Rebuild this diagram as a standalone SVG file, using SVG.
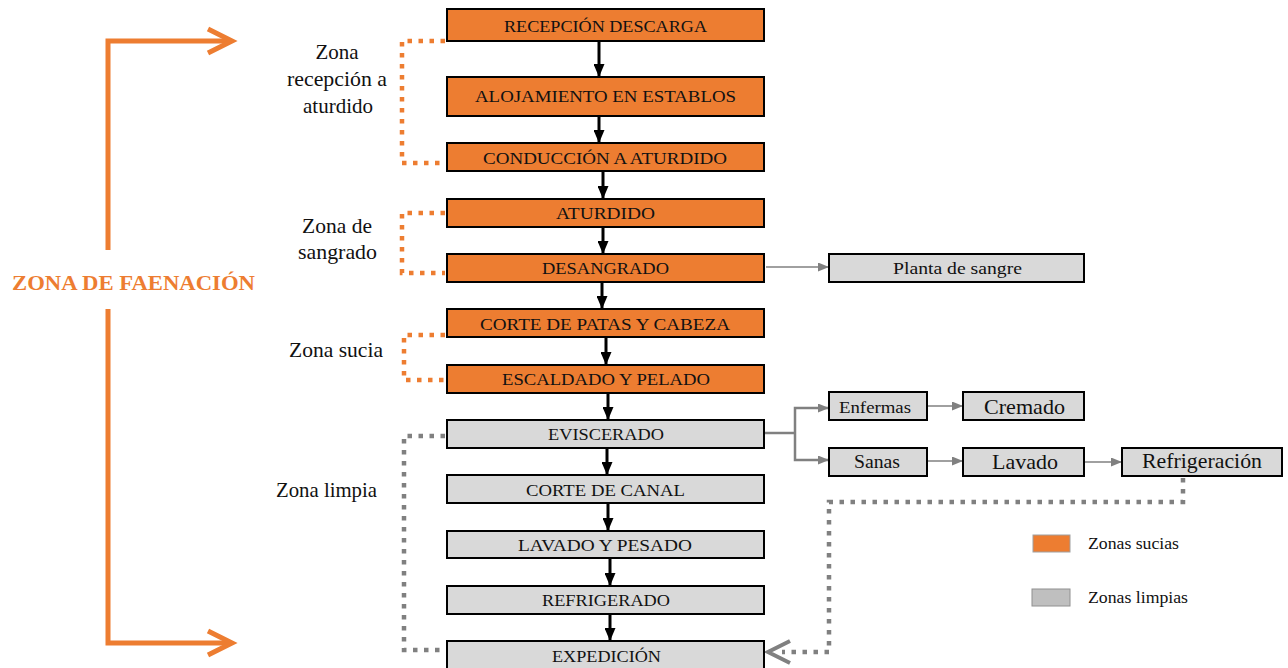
<svg xmlns="http://www.w3.org/2000/svg" width="1288" height="668" viewBox="0 0 1288 668">
<style>
text{font-family:'Liberation Serif','Times New Roman',Times,serif}
.t{fill:#111}
.bx{font-size:17px;text-anchor:middle}
.dirty{fill:#ED7D31;stroke:#000;stroke-width:2}
.clean{fill:#D9D9D9;stroke:#000;stroke-width:2}
.flow{stroke:#000;stroke-width:3;fill:none}
.side{stroke:#808080;stroke-width:1.5;fill:none}
.dotO{stroke:#ED7D31;stroke-width:4.5;stroke-dasharray:4.5 6.5;fill:none}
.dotG{stroke:#808080;stroke-width:4.5;stroke-dasharray:4.5 6.5;fill:none}
.big{stroke:#ED7D31;stroke-width:5;fill:none}
.zl{font-size:21px}
</style>
<defs>
<marker id="ah" markerUnits="userSpaceOnUse" markerWidth="13" markerHeight="11" refX="13" refY="5.5" orient="auto">
<path d="M0,0 L13,5.5 L0,11 z" fill="#000"/>
</marker>
<marker id="gh" markerUnits="userSpaceOnUse" markerWidth="11" markerHeight="9" refX="11" refY="4.5" orient="auto">
<path d="M0,0 L11,4.5 L0,9 z" fill="#808080"/>
</marker>
</defs>
<rect width="1288" height="668" fill="#fff"/>

<g id="faenacion">
<path class="big" d="M108,250 V41 H231"/>
<path class="big" d="M208,29 L232,41 L208,53"/>
<path class="big" d="M108,309 V643 H231"/>
<path class="big" d="M208,631 L232,643 L208,655"/>
<text x="12" y="290" font-family="Liberation Serif, serif" font-size="21" font-weight="bold" fill="#ED7D31" textLength="243" lengthAdjust="spacingAndGlyphs">ZONA DE FAENACIÓN</text>
</g>

<g id="zone-labels" font-family="Liberation Serif, serif">
<text class="t zl" x="337" y="59" text-anchor="middle">Zona</text>
<text class="t zl" x="287" y="86" textLength="100" lengthAdjust="spacingAndGlyphs">recepción a</text>
<text class="t zl" x="303" y="113" textLength="70" lengthAdjust="spacingAndGlyphs">aturdido</text>
<text class="t zl" x="302" y="233" textLength="70" lengthAdjust="spacingAndGlyphs">Zona de</text>
<text class="t zl" x="298" y="259" textLength="79" lengthAdjust="spacingAndGlyphs">sangrado</text>
<text class="t zl" x="289" y="357" textLength="94" lengthAdjust="spacingAndGlyphs">Zona sucia</text>
<text class="t zl" x="276" y="497" textLength="101" lengthAdjust="spacingAndGlyphs">Zona limpia</text>
</g>

<g id="brackets">
<path class="dotO" d="M445,41 H402 V163 H445"/>
<path class="dotO" d="M445,213 H402 V273 H445"/>
<path class="dotO" d="M445,335 H404 V380 H445"/>
<path class="dotG" d="M445,436 H404 V650 H445"/>
</g>

<g id="connectors">
<line class="flow" x1="599" y1="42" x2="599" y2="77" marker-end="url(#ah)"/>
<line class="flow" x1="599" y1="117" x2="599" y2="143" marker-end="url(#ah)"/>
<line class="flow" x1="603" y1="172" x2="603" y2="199" marker-end="url(#ah)"/>
<line class="flow" x1="603" y1="228" x2="603" y2="254" marker-end="url(#ah)"/>
<line class="flow" x1="602" y1="283" x2="602" y2="309" marker-end="url(#ah)"/>
<line class="flow" x1="606" y1="338" x2="606" y2="365" marker-end="url(#ah)"/>
<line class="flow" x1="608" y1="394" x2="608" y2="420" marker-end="url(#ah)"/>
<line class="flow" x1="607" y1="449" x2="607" y2="475" marker-end="url(#ah)"/>
<line class="flow" x1="608" y1="504" x2="608" y2="531" marker-end="url(#ah)"/>
<line class="flow" x1="610" y1="559" x2="610" y2="586" marker-end="url(#ah)"/>
<line class="flow" x1="610" y1="615" x2="610" y2="641" marker-end="url(#ah)"/>
<line class="side" x1="766" y1="267" x2="829" y2="267" marker-end="url(#gh)"/>
<path stroke="#808080" stroke-width="2.5" fill="none" d="M765,433 H795"/>
<path stroke="#808080" stroke-width="2.5" fill="none" d="M795,433 V408 H829" marker-end="url(#gh)"/>
<path stroke="#808080" stroke-width="2.5" fill="none" d="M795,433 V460 H829" marker-end="url(#gh)"/>
<line class="side" x1="928" y1="406" x2="963" y2="406" marker-end="url(#gh)"/>
<line class="side" x1="928" y1="461" x2="963" y2="461" marker-end="url(#gh)"/>
<line class="side" x1="1085" y1="462" x2="1122" y2="462" marker-end="url(#gh)"/>
<path class="dotG" d="M1183,478 V502 H829 V652 H782"/>
<path stroke="#808080" stroke-width="4" fill="none" d="M790,641 L768,652 L790,663"/>
</g>

<g id="nodes" font-family="Liberation Serif, serif">
<g id="n1"><rect class="dirty" x="447" y="9" width="317" height="32"/><text class="t bx" x="605.5" y="32" textLength="203" lengthAdjust="spacingAndGlyphs">RECEPCIÓN DESCARGA</text></g>
<g id="n2"><rect class="dirty" x="447" y="77" width="317" height="39"/><text class="t bx" x="605.5" y="102" textLength="261" lengthAdjust="spacingAndGlyphs">ALOJAMIENTO EN ESTABLOS</text></g>
<g id="n3"><rect class="dirty" x="447" y="143" width="317" height="28"/><text class="t bx" x="605" y="164" textLength="244" lengthAdjust="spacingAndGlyphs">CONDUCCIÓN A ATURDIDO</text></g>
<g id="n4"><rect class="dirty" x="447" y="199" width="317" height="28"/><text class="t bx" x="605.5" y="219" textLength="99" lengthAdjust="spacingAndGlyphs">ATURDIDO</text></g>
<g id="n5"><rect class="dirty" x="447" y="254" width="317" height="28"/><text class="t bx" x="605.5" y="274" textLength="127" lengthAdjust="spacingAndGlyphs">DESANGRADO</text></g>
<g id="n6"><rect class="dirty" x="447" y="309" width="317" height="28"/><text class="t bx" x="605" y="330" textLength="250" lengthAdjust="spacingAndGlyphs">CORTE DE PATAS Y CABEZA</text></g>
<g id="n7"><rect class="dirty" x="447" y="365" width="317" height="28"/><text class="t bx" x="606" y="385" textLength="208" lengthAdjust="spacingAndGlyphs">ESCALDADO Y PELADO</text></g>
<g id="n8"><rect class="clean" x="447" y="420" width="317" height="28"/><text class="t bx" x="606" y="440" textLength="116" lengthAdjust="spacingAndGlyphs">EVISCERADO</text></g>
<g id="n9"><rect class="clean" x="447" y="475" width="317" height="28"/><text class="t bx" x="605.5" y="496" textLength="159" lengthAdjust="spacingAndGlyphs">CORTE DE CANAL</text></g>
<g id="n10"><rect class="clean" x="447" y="531" width="317" height="27"/><text class="t bx" x="605" y="551" textLength="174" lengthAdjust="spacingAndGlyphs">LAVADO Y PESADO</text></g>
<g id="n11"><rect class="clean" x="447" y="586" width="317" height="28"/><text class="t bx" x="606" y="606" textLength="128" lengthAdjust="spacingAndGlyphs">REFRIGERADO</text></g>
<g id="n12"><rect class="clean" x="447" y="641" width="317" height="29"/><text class="t bx" x="606.5" y="662" textLength="109" lengthAdjust="spacingAndGlyphs">EXPEDICIÓN</text></g>

<g id="planta"><rect class="clean" x="829" y="254" width="255" height="28"/><text class="t" x="893" y="274" font-size="17" textLength="129" lengthAdjust="spacingAndGlyphs">Planta de sangre</text></g>
<g id="enfermas"><rect class="clean" x="829" y="392" width="98" height="28"/><text class="t" x="839" y="413" font-size="17" textLength="72" lengthAdjust="spacingAndGlyphs">Enfermas</text></g>
<g id="cremado"><rect class="clean" x="963" y="392" width="121" height="28"/><text class="t" x="984" y="414" font-size="21" textLength="81" lengthAdjust="spacingAndGlyphs">Cremado</text></g>
<g id="sanas"><rect class="clean" x="829" y="448" width="98" height="28"/><text class="t" x="854" y="468" font-size="18" textLength="46" lengthAdjust="spacingAndGlyphs">Sanas</text></g>
<g id="lavado"><rect class="clean" x="963" y="448" width="121" height="28"/><text class="t" x="992" y="469" font-size="21" textLength="66" lengthAdjust="spacingAndGlyphs">Lavado</text></g>
<g id="refrigeracion"><rect class="clean" x="1122" y="448" width="160" height="28"/><text class="t" x="1142" y="468" font-size="21" textLength="120" lengthAdjust="spacingAndGlyphs">Refrigeración</text></g>
</g>

<g id="legend" font-family="Liberation Serif, serif">
<rect x="1033" y="535" width="37" height="17" fill="#ED7D31" stroke="#A0A0A0" stroke-width="1"/>
<text class="t" x="1088" y="549" font-size="16" textLength="91" lengthAdjust="spacingAndGlyphs">Zonas sucias</text>
<rect x="1032" y="589" width="38" height="17" fill="#BFBFBF" stroke="#909090" stroke-width="1"/>
<text class="t" x="1088" y="603" font-size="16" textLength="100" lengthAdjust="spacingAndGlyphs">Zonas limpias</text>
</g>
</svg>
